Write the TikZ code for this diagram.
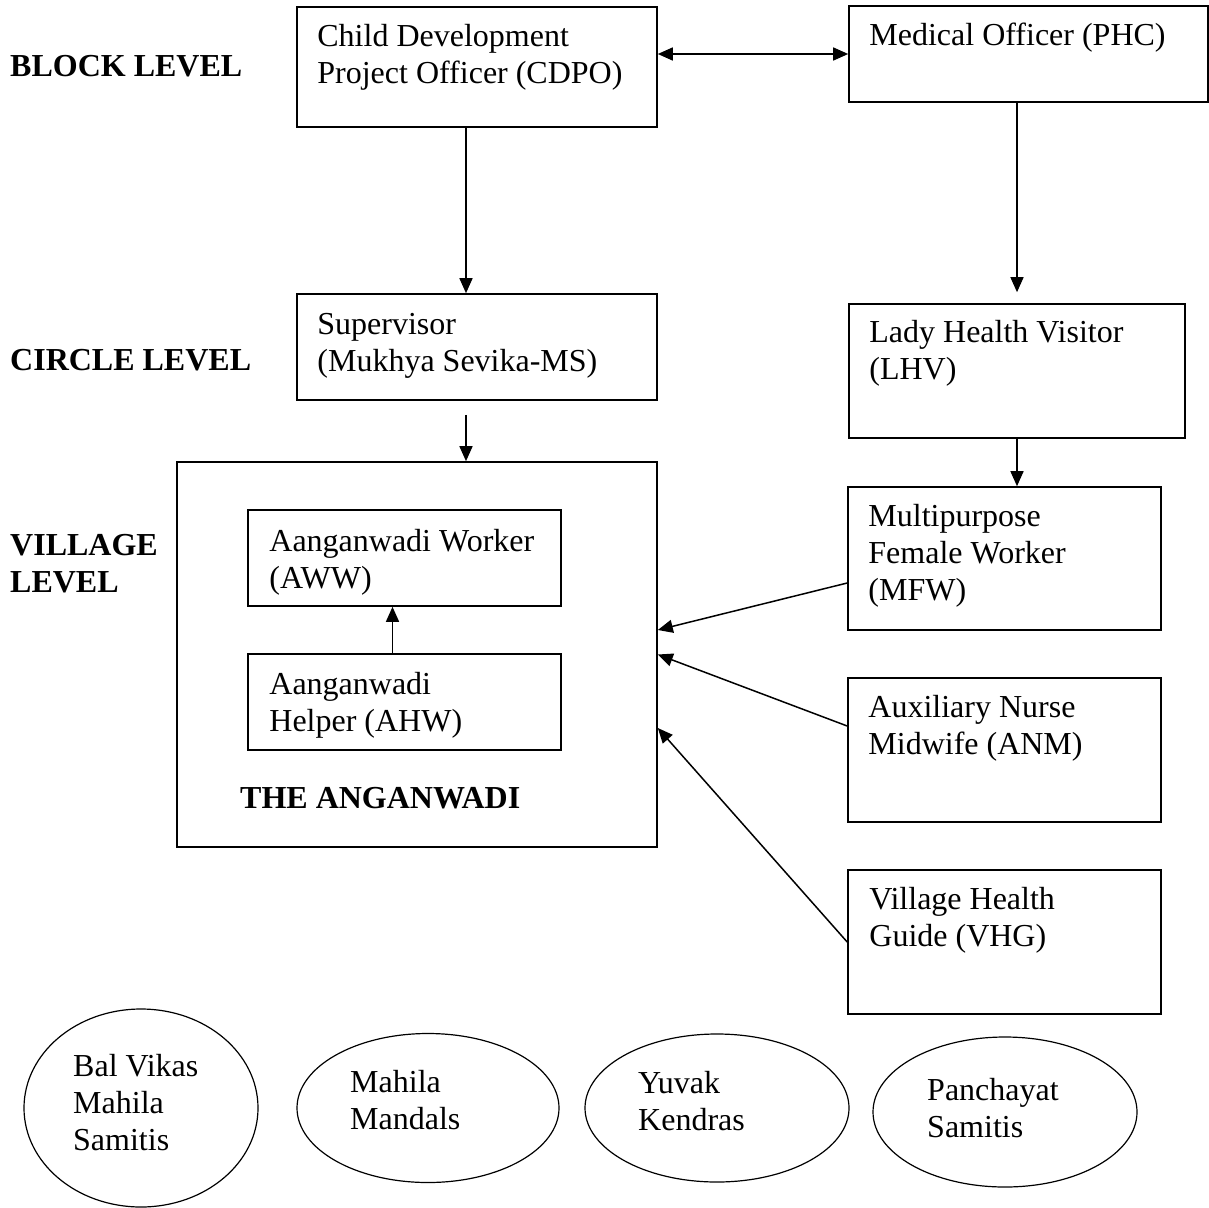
\documentclass[tikz,border=0pt]{standalone}
\usepackage{fontspec}
\setmainfont{Liberation Serif}
\usetikzlibrary{arrows.meta,shapes.geometric}

\begin{document}
\begin{tikzpicture}[x=1pt, y=-1pt,
    >={Triangle[length=15pt,width=13pt]},
    box/.style={draw, line width=1.6pt, inner sep=0pt},
    txt/.style={anchor=base west, inner sep=0pt, align=flush left, text width=#1,
                font=\fontsize{32}{37}\selectfont},
    txt/.default=330pt,
    lvl/.style={anchor=base west, inner sep=0pt, align=flush left, text width=300pt,
                font=\fontsize{32}{37}\selectfont\bfseries},
    blob/.style={draw, ellipse, line width=1.2pt, inner sep=0pt},
    arr/.style={->, line width=1.5pt}]
                % Page frame
                \useasboundingbox (0,0) rectangle (1209,1207);

                % Level titles
                \node[lvl] (blk) at (10,76) {BLOCK LEVEL};
                \node[lvl] (crc) at (10,370) {CIRCLE LEVEL};
                \node[lvl] (vlg) at (10,555) {VILLAGE\\LEVEL};

                % ICDS side
                \node[box, minimum width=360pt, minimum height=120pt] (cdpo) at (477,67) {};
                \node[txt] (cdpot) at ([xshift=21pt,yshift=-40pt]cdpo.north west) {Child Development\\Project Officer (CDPO)};
                \node[box, minimum width=360pt, minimum height=106pt] (sup) at (477,347) {};
                \node[txt] (supt) at ([xshift=21pt,yshift=-41pt]sup.north west) {Supervisor\\(Mukhya Sevika-MS)};

                % The anganwadi with its two workers
                \node[box, minimum width=480pt, minimum height=385pt] (awc) at (417,654.5) {};
                \node[box, minimum width=313pt, minimum height=96pt] (aww) at (404.5,558) {};
                \node[txt] (awwt) at ([xshift=22pt,yshift=-42pt]aww.north west) {Aanganwadi Worker\\(AWW)};
                \node[box, minimum width=313pt, minimum height=96pt] (ahw) at (404.5,702) {};
                \node[txt] (ahwt) at ([xshift=22pt,yshift=-41pt]ahw.north west) {Aanganwadi\\Helper (AHW)};
                \node[lvl] (awct) at (240,808) {THE ANGANWADI};

                % Health side
                \node[box, minimum width=359pt, minimum height=96pt] (mo) at (1028.5,54) {};
                \node[txt] (mot) at ([xshift=21pt,yshift=-40pt]mo.north west) {Medical Officer (PHC)};
                \node[box, minimum width=336pt, minimum height=134pt] (lhv) at (1017,371) {};
                \node[txt] (lhvt) at ([xshift=21pt,yshift=-39pt]lhv.north west) {Lady Health Visitor\\(LHV)};
                \node[box, minimum width=313pt, minimum height=143pt] (mfw) at (1004.5,558.5) {};
                \node[txt] (mfwt) at ([xshift=21pt,yshift=-40pt]mfw.north west) {Multipurpose\\Female Worker\\(MFW)};
                \node[box, minimum width=313pt, minimum height=144pt] (anm) at (1004.5,750) {};
                \node[txt] (anmt) at ([xshift=21pt,yshift=-40pt]anm.north west) {Auxiliary Nurse\\Midwife (ANM)};
                \node[box, minimum width=313pt, minimum height=144pt] (vhg) at (1004.5,942) {};
                \node[txt] (vhgt) at ([xshift=22pt,yshift=-40pt]vhg.north west) {Village Health\\Guide (VHG)};

                % Links
                \draw[arr, <->] (mo.west -| cdpo.east) -- (mo.west);
                \draw[arr] ([xshift=-11pt]cdpo.south) -- ([xshift=-11pt]sup.north);
                \coordinate (supo) at ([xshift=-11pt,yshift=-14pt]sup.south);
                \draw[arr] (supo) -- (supo |- awc.north);
                \draw[arr] ([xshift=-12pt]ahw.north) -- ([xshift=-12pt]aww.south);
                \draw[arr] (lhv.north |- mo.south) -- ([yshift=11pt]lhv.north);
                \draw[arr] (lhv.south) -- (lhv.south |- mfw.north);
                \draw[arr] ([yshift=-24.5pt]mfw.west) -- ([yshift=24.5pt]awc.east);
                \draw[arr] ([yshift=24pt]anm.west) -- (awc.east);
                \draw[arr] (vhg.west) -- ([yshift=-73.5pt]awc.east);

                % Community groups
                \node[blob, minimum width=234pt, minimum height=198pt] (bvms) at (141,1108) {};
                \node[txt=150pt] (bvmst) at (73,1076) {Bal Vikas\\Mahila\\Samitis};
                \node[blob, minimum width=262pt, minimum height=149pt] (mm) at (428,1108) {};
                \node[txt=150pt] (mmt) at (350,1092) {Mahila\\Mandals};
                \node[blob, minimum width=264pt, minimum height=148pt] (yk) at (717,1108) {};
                \node[txt=150pt] (ykt) at (638,1093) {Yuvak\\Kendras};
                \node[blob, minimum width=264pt, minimum height=150pt] (ps) at (1005,1112) {};
                \node[txt=150pt] (pst) at (927,1100) {Panchayat\\Samitis};
            \end{tikzpicture}
\end{document}
